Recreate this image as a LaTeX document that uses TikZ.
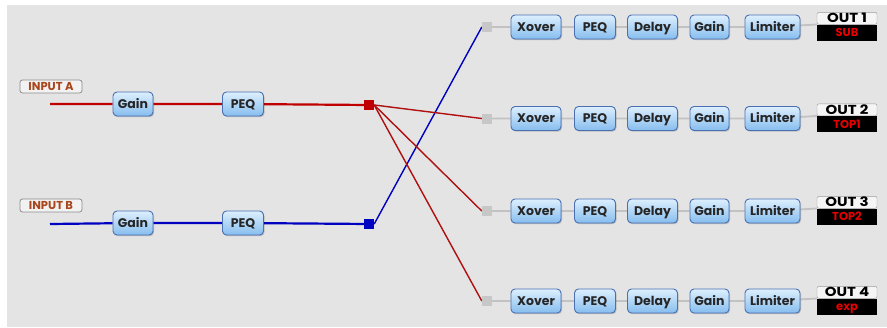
\documentclass[tikz,border=0pt]{standalone}
\usepackage{fontspec}
\newfontfamily\popfont{Poppins}
\newfontfamily\popwide{Poppins}[FakeStretch=1.15]
\usetikzlibrary{shadows}
\pgfdeclarelayer{bglayer}
\pgfdeclarelayer{wirelayer}
\pgfsetlayers{bglayer,wirelayer,main}
\definecolor{bgcol}{HTML}{E4E4E4}
\definecolor{boxtop}{HTML}{DDEFFE}
\definecolor{boxbot}{HTML}{86BDEE}
\definecolor{boxline}{HTML}{4A70B2}
\definecolor{wirecol}{HTML}{C2C2C2}
\definecolor{redline}{HTML}{C00000}
\definecolor{redthin}{HTML}{B01010}
\definecolor{blueline}{HTML}{0000C0}
\definecolor{labbrown}{HTML}{A8461C}
\definecolor{outred}{HTML}{E80000}
\begin{document}
\begin{tikzpicture}[x=1pt,y=-1pt,
  proc/.style={draw=boxline, line width=0.9pt, rounded corners=4pt,
    top color=boxtop, bottom color=boxbot, text=black!85,
    font=\popfont\bfseries\fontsize{12.5}{13}\selectfont,
    minimum height=24pt, inner sep=0pt, text height=8.7pt, text depth=0pt,
    drop shadow={shadow xshift=1pt, shadow yshift=-1.2pt, fill=black, opacity=0.18}},
  inlab/.style={draw=black!45, line width=0.8pt, fill=white!95!black, rounded corners=2.5pt,
    minimum width=62pt, minimum height=13pt, inner sep=0pt, text=labbrown,
    text height=8pt, text depth=0pt,
    font=\popfont\bfseries\fontsize{11.5}{12}\selectfont},
  outtop/.style={draw=black!40, fill=white!96!black, rounded corners=2pt,
    minimum width=60pt, minimum height=12pt, inner sep=0pt, text=black,
    text height=9pt, text depth=0pt,
    font=\popwide\bfseries\fontsize{13}{13}\selectfont},
  outbot/.style={fill=black, minimum width=60pt, minimum height=16pt, inner sep=0pt,
    text=outred, text height=8pt, text depth=0pt,
    font=\popfont\bfseries\fontsize{11.5}{12}\selectfont},
  srcA/.style={fill=redline, minimum size=10pt, inner sep=0pt},
  srcB/.style={fill=blueline, minimum size=10pt, inner sep=0pt},
  dst/.style={fill=black!22, minimum size=10pt, inner sep=0pt},
  wire/.style={draw=wirecol, line width=1.8pt},
  redwire/.style={draw=redline, line width=2.2pt},
  bluewire/.style={draw=blueline, line width=2.2pt},
  redx/.style={draw=redthin, line width=1.4pt},
  bluex/.style={draw=blueline, line width=1.4pt}
]
\useasboundingbox (0,0) rectangle (887,327);
\begin{pgfonlayer}{bglayer}
\fill[white] (0,0) rectangle (887,327);
\fill[bgcol] (7,5) rectangle (887,327);
\end{pgfonlayer}

% inputs
\node[inlab] (inA) at (51,86.5) {INPUT A};
\node[inlab] (inB) at (51,205.5) {INPUT B};
\coordinate (startA) at (50,104);
\coordinate (startB) at (50,224);
\node[srcA] (sqA) at (369,105) {};
\node[srcB] (sqB) at (369,224) {};
\node[proc, minimum width=40pt] (gainA) at (133,104) {Gain};
\node[proc, minimum width=41pt] (peqA) at (243,104) {PEQ};
\node[proc, minimum width=40pt] (gainB) at (133,223) {Gain};
\node[proc, minimum width=41pt] (peqB) at (243,223) {PEQ};

% output rows
\foreach \r/\y/\lab in {1/27/SUB, 2/118.5/TOP1, 3/211/TOP2, 4/301/exp}{
  \node[dst] (d\r) at (487,\y) {};
  \node[proc, minimum width=50pt] (x\r) at (536,\y) {Xover};
  \node[proc, minimum width=41pt] (p\r) at (595,\y) {PEQ};
  \node[proc, minimum width=50pt] (dl\r) at (652.5,\y) {Delay};
  \node[proc, minimum width=39pt] (g\r) at (709.5,\y) {Gain};
  \node[proc, minimum width=55pt] (l\r) at (772.5,\y) {Limiter};
  \node[outtop, anchor=south] (ot\r) at (847,\y-2.5) {OUT \r};
  \node[outbot, anchor=north] (ob\r) at (847,\y-2.5) {\lab};
}

\begin{pgfonlayer}{wirelayer}
  \draw[redwire] (startA) -- (gainA) -- (peqA) -- (sqA);
  \draw[bluewire] (startB) -- (gainB) -- (peqB) -- (sqB);
  \foreach \r in {1,2,3,4}{
    \draw[wire] (d\r.center) -- (x\r) -- (p\r) -- (dl\r) -- (g\r) -- (l\r) -- (ot\r.south west);
  }
  \draw[bluex] (sqB.east) -- (d1.west);
  \foreach \r in {2,3,4}{
    \draw[redx] (sqA.east) -- (d\r.west);
  }
\end{pgfonlayer}
\end{tikzpicture}
\end{document}
